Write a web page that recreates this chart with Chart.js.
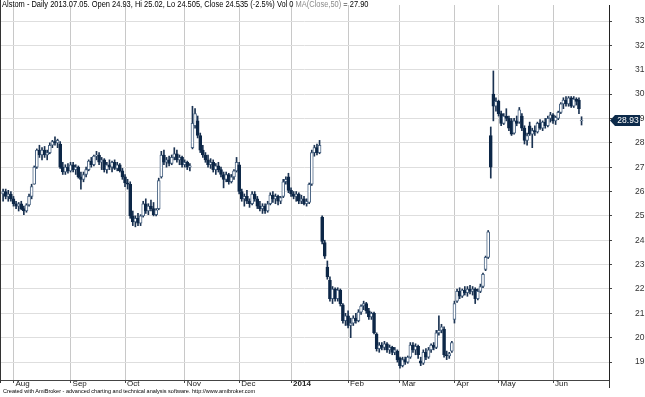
<!DOCTYPE html>
<html>
<head>
<meta charset="utf-8">
<script src="https://cdn.jsdelivr.net/npm/chart.js@4.4.1/dist/chart.umd.min.js"></script>
<style>
  html, body { margin: 0; padding: 0; background: #fff; }
  #wrap { position: relative; width: 645px; height: 397px; overflow: hidden; }
  #title { position: absolute; left: 2px; top: -1px; font: 9px 'Liberation Sans', Arial, sans-serif; color: #000; white-space: nowrap; transform: scaleX(0.83); transform-origin: 0 0; }
  #title span { color: #8a8a8a; }
  #footer { position: absolute; left: 3px; top: 388px; font: 6px 'Liberation Sans', Arial, sans-serif; color: #000; white-space: nowrap; transform: scaleX(0.92); transform-origin: 0 0; }
</style>
</head>
<body>
<div id="wrap">
  <canvas id="chart" width="645" height="397"></canvas>
  <div id="title">Alstom - Daily 2013.07.05. Open 24.93, Hi 25.02, Lo 24.505, Close 24.535 (-2.5%) Vol 0 <span>MA(Close,50)</span> = 27.90</div>
  <div id="footer">Created with AmiBroker - advanced charting and technical analysis software. http://www.amibroker.com</div>
</div>
<script>
// daily bars, late Jul 2013 -> mid Jun 2014
const opens = [
  25.9,26.0,25.8,25.9,25.7,25.5,25.4,25.5,25.3,25.2,
  25.45,25.8,26.3,27.0,27.7,27.5,27.7,27.5,27.6,27.9,
  28.05,28.0,27.95,27.0,26.8,27.0,26.85,27.1,26.9,27.0,
  26.6,26.5,26.7,26.9,27.25,27.1,27.45,27.5,27.2,27.3,
  26.9,27.1,27.0,27.2,26.95,27.1,26.85,26.6,26.35,26.3,
  25.0,24.75,24.9,24.7,25.0,25.5,25.2,25.4,25.3,25.05,
  25.3,26.6,27.5,27.2,27.3,27.15,27.4,27.55,27.3,27.4,
  27.1,27.2,27.0,27.8,28.7,28.9,28.3,27.7,27.5,27.3,
  27.1,27.2,26.9,27.05,26.9,26.7,26.5,26.7,26.4,26.6,
  26.85,27.1,26.0,25.7,25.8,25.6,25.5,25.9,25.7,25.4,
  25.3,25.4,25.2,25.5,25.85,25.7,25.8,25.6,25.8,26.4,
  26.6,26.05,25.9,25.8,25.9,25.6,25.7,25.5,25.55,26.3,
  27.6,27.8,27.6,24.95,23.9,22.9,22.35,21.6,22.0,21.6,
  21.95,21.35,20.7,20.9,20.5,20.6,20.8,20.7,21.05,21.3,
  21.4,21.1,20.85,21.0,20.15,19.55,19.7,19.6,19.75,19.5,
  19.6,19.4,19.45,19.15,18.85,19.1,19.0,19.2,19.7,19.5,
  19.65,19.05,18.95,19.4,19.2,19.5,19.7,19.6,20.2,20.3,
  20.35,19.3,19.25,19.45,20.75,21.5,21.9,21.7,21.95,21.85,
  22.0,21.9,22.0,21.6,21.9,22.1,22.8,23.3,28.3,30.0,
  29.5,29.7,29.2,28.8,29.1,29.0,28.9,28.4,28.9,28.85,
  29.1,28.6,28.1,28.7,28.35,28.5,28.45,28.8,28.6,28.85,
  28.7,29.0,29.15,28.9,29.0,29.25,29.6,29.75,29.6,29.85,
  29.5,29.8,29.75,28.9
];
const highs = [
  26.1,26.1,26.05,26.0,25.8,25.6,25.55,25.6,25.4,25.5,
  25.9,26.3,27.05,27.75,27.9,27.8,27.85,27.7,28.0,28.1,
  28.25,28.15,28.05,27.2,27.1,27.15,27.2,27.2,27.1,27.05,
  26.8,26.8,27.0,27.3,27.4,27.5,27.65,27.6,27.4,27.35,
  27.2,27.3,27.25,27.3,27.2,27.15,26.95,26.7,26.5,26.4,
  25.2,25.0,25.1,25.05,25.6,25.7,25.5,25.65,25.55,25.3,
  26.55,27.65,27.7,27.4,27.45,27.5,27.8,27.7,27.5,27.45,
  27.3,27.25,27.15,29.5,29.4,29.1,28.4,27.9,27.6,27.5,
  27.35,27.3,27.15,27.2,27.0,26.8,26.8,26.75,26.7,26.9,
  27.4,27.2,26.1,25.9,26.05,25.7,26.0,26.0,25.8,25.6,
  25.5,25.5,25.6,25.95,26.0,25.9,25.85,25.8,26.5,26.6,
  26.75,26.15,26.0,26.0,25.95,25.85,25.8,25.7,26.35,27.7,
  27.9,27.95,28.1,25.0,24.0,23.15,22.5,22.1,22.05,22.05,
  22.0,21.4,21.0,21.1,20.8,20.9,21.0,21.15,21.35,21.5,
  21.45,21.2,21.05,21.05,20.2,19.8,19.8,19.85,19.8,19.7,
  19.65,19.6,19.5,19.2,19.2,19.2,19.25,19.8,19.8,19.75,
  19.7,19.2,19.5,19.55,19.6,19.75,19.8,20.3,20.9,20.55,
  20.45,19.45,19.4,19.85,21.5,22.0,22.05,22.0,22.1,22.1,
  22.15,22.1,22.05,22.0,22.2,22.65,23.35,24.4,28.65,30.95,
  29.85,29.75,29.3,29.2,29.4,29.1,29.0,29.0,29.1,29.45,
  29.2,28.7,28.4,28.85,28.6,28.7,28.85,28.95,28.9,29.0,
  29.1,29.25,29.2,29.1,29.3,29.65,29.85,29.9,29.9,29.9,
  29.9,29.85,29.85,29.07
];
const lows = [
  25.6,25.7,25.6,25.6,25.4,25.3,25.2,25.25,25.05,25.15,
  25.4,25.7,26.3,26.95,27.4,27.3,27.4,27.3,27.55,27.8,
  27.9,27.8,26.95,26.7,26.7,26.75,26.8,26.8,26.7,26.55,
  26.1,26.4,26.6,26.85,27.0,27.05,27.3,27.1,26.9,26.8,
  26.75,26.9,26.8,26.9,26.85,26.8,26.5,26.2,26.1,24.9,
  24.6,24.55,24.6,24.6,24.95,25.1,25.05,25.2,25.0,25.0,
  25.25,26.55,27.1,27.0,27.05,27.1,27.3,27.2,27.1,27.0,
  27.0,26.9,26.85,27.75,28.6,28.2,27.6,27.4,27.2,27.0,
  26.95,26.8,26.7,26.8,26.6,26.15,26.4,26.3,26.35,26.5,
  26.8,25.9,25.6,25.4,25.5,25.35,25.45,25.6,25.3,25.2,
  25.1,25.1,25.15,25.45,25.55,25.5,25.45,25.5,25.75,26.3,
  25.95,25.8,25.7,25.6,25.5,25.5,25.45,25.4,25.5,26.25,
  27.45,27.5,27.55,23.85,23.25,22.4,21.5,21.4,21.5,21.5,
  21.3,20.6,20.5,20.4,20.0,20.5,20.6,20.65,20.95,21.15,
  21.0,20.75,20.75,20.15,19.45,19.4,19.5,19.5,19.4,19.35,
  19.3,19.3,19.0,18.75,18.8,18.9,18.95,19.15,19.4,19.3,
  19.15,18.85,18.9,19.1,19.15,19.4,19.5,19.55,20.1,20.2,
  19.2,19.1,19.15,19.4,20.6,21.45,21.6,21.65,21.75,21.7,
  21.8,21.75,21.4,21.55,21.85,22.05,22.75,23.25,26.55,28.9,
  29.3,29.1,28.7,28.75,28.9,28.5,28.3,28.35,28.7,28.8,
  28.5,27.95,27.9,28.3,27.8,28.3,28.4,28.55,28.5,28.6,
  28.65,28.85,28.8,28.75,28.95,29.2,29.4,29.5,29.5,29.45,
  29.45,29.55,29.2,28.73
];
const closes = [
  26.0,25.8,25.9,25.7,25.5,25.4,25.5,25.3,25.2,25.45,
  25.8,26.2,27.0,27.7,27.5,27.7,27.5,27.6,27.9,28.05,
  28.0,28.1,27.0,26.8,27.0,26.85,27.1,26.9,27.0,26.6,
  26.5,26.7,26.9,27.25,27.1,27.45,27.5,27.2,27.3,26.9,
  27.1,27.0,27.2,26.95,27.1,26.85,26.6,26.35,26.3,25.0,
  24.75,24.9,24.7,25.0,25.5,25.2,25.4,25.3,25.05,25.25,
  26.45,27.5,27.2,27.3,27.15,27.4,27.55,27.3,27.4,27.1,
  27.2,27.0,27.05,28.8,29.2,28.3,27.7,27.5,27.3,27.1,
  27.2,26.9,27.05,26.9,26.7,26.5,26.7,26.4,26.6,26.85,
  27.2,26.0,25.7,25.8,25.6,25.5,25.9,25.7,25.4,25.3,
  25.4,25.2,25.5,25.85,25.7,25.8,25.6,25.75,26.4,26.5,
  26.05,25.9,25.8,25.9,25.6,25.7,25.5,25.6,26.3,27.6,
  27.8,27.6,27.9,23.95,23.35,22.5,21.6,22.0,21.6,21.95,
  21.4,20.7,20.9,20.5,20.6,20.8,20.7,21.05,21.3,21.4,
  21.1,20.85,21.0,20.2,19.55,19.7,19.6,19.75,19.5,19.6,
  19.4,19.5,19.1,18.85,19.1,19.0,19.2,19.7,19.5,19.65,
  19.3,18.95,19.4,19.2,19.5,19.7,19.6,20.2,20.3,20.45,
  19.3,19.25,19.35,19.8,21.4,21.9,21.7,21.95,21.85,22.0,
  21.9,22.0,21.6,21.9,22.1,22.6,23.3,24.35,27.0,29.5,
  29.7,29.2,28.8,29.1,29.0,28.6,28.35,28.9,28.8,29.35,
  28.6,28.1,28.3,28.35,28.5,28.45,28.8,28.6,28.85,28.7,
  29.0,29.15,28.9,29.05,29.25,29.6,29.75,29.6,29.85,29.5,
  29.8,29.7,29.4,28.93
];

// first bar of each month and its axis label
const monthIdx = [4, 26, 47, 70, 91, 111, 133, 153, 174, 191, 212];
const monthLabels = ['Aug', 'Sep', 'Oct', 'Nov', 'Dec', '2014', 'Feb', 'Mar', 'Apr', 'May', 'Jun'];
const yTicks = [19, 20, 21, 22, 23, 24, 25, 26, 27, 28, 29, 30, 31, 32, 33];

const FONT = "'Liberation Sans', Arial, sans-serif";
const UP_FILL = '#ffffff';
const UP_LINE = '#4b6584';
const DOWN_FILL = '#0d2747';
const WICK = '#1b3352';

const bodies = [];
const wicks = [];
const fills = [];
const lines = [];
for (let i = 0; i < closes.length; i++) {
  const o = opens[i], c = closes[i];
  bodies.push({x: i, y: [Math.min(o, c), Math.max(o, c)]});
  wicks.push({x: i, y: [lows[i], highs[i]]});
  const up = c >= o;
  fills.push(up ? UP_FILL : DOWN_FILL);
  lines.push(up ? UP_LINE : DOWN_FILL);
}

// no automatic label padding, the frame is fixed like the original
function noPad(scale) {
  scale.paddingTop = 0;
  scale.paddingBottom = 0;
  scale.paddingLeft = 0;
  scale.paddingRight = 0;
}

const lastTag = {
  id: 'lastTag',
  afterDraw(chart) {
    const ctx = chart.ctx;
    const area = chart.chartArea;
    const yScale = chart.scales.y;
    // left frame line and axis line running past the bottom
    ctx.save();
    ctx.strokeStyle = '#333';
    ctx.lineWidth = 1;
    ctx.beginPath();
    ctx.moveTo(0.5, 0);
    ctx.lineTo(0.5, area.bottom + 3);
    ctx.moveTo(area.right + 0.5, area.bottom);
    ctx.lineTo(area.right + 0.5, area.bottom + 8);
    ctx.stroke();

    const last = closes[closes.length - 1];
    const y = Math.round(yScale.getPixelForValue(last)) + 0.5;
    const x0 = area.right + 1;
    ctx.fillStyle = '#0c2a4a';
    ctx.beginPath();
    ctx.moveTo(x0, y);
    ctx.lineTo(x0 + 5, y - 5.5);
    ctx.lineTo(x0 + 30, y - 5.5);
    ctx.lineTo(x0 + 30, y + 5.5);
    ctx.lineTo(x0 + 5, y + 5.5);
    ctx.closePath();
    ctx.fill();
    ctx.fillStyle = '#fff';
    ctx.font = '8.5px ' + FONT;
    ctx.textAlign = 'center';
    ctx.textBaseline = 'middle';
    ctx.fillText(last.toFixed(2), x0 + 18, y + 0.5);
    ctx.restore();
  }
};

new Chart(document.getElementById('chart'), {
  type: 'bar',
  data: {
    datasets: [
      {
        data: bodies,
        backgroundColor: fills,
        borderColor: lines,
        borderWidth: 1,
        borderSkipped: false,
        barThickness: 3,
        grouped: false,
      },
      {
        data: wicks,
        backgroundColor: WICK,
        borderWidth: 0,
        barThickness: 1,
        grouped: false,
      },
    ]
  },
  options: {
    responsive: false,
    animation: false,
    devicePixelRatio: 1,
    layout: {padding: {top: 5, left: 0, right: 0, bottom: 0}},
    plugins: {
      legend: {display: false},
      tooltip: {enabled: false},
      title: {display: false},
    },
    scales: {
      x: {
        type: 'linear',
        offset: false,
        min: -1.195,
        max: 233.58,
        afterBuildTicks: (scale) => {
          scale.ticks = monthIdx.map(v => ({value: v}));
        },
        afterFit: (scale) => { scale.height = 17; noPad(scale); },
        grid: {color: '#c8c8c8', tickColor: '#444', tickLength: 3, offset: false},
        border: {color: '#444', width: 1},
        ticks: {
          autoSkip: false,
          maxRotation: 0,
          align: 'start',
          labelOffset: 2,
          padding: -4,
          color: '#222',
          font: (ctx) => ({
            size: 8,
            family: FONT,
            weight: ctx.tick && ctx.tick.label === '2014' ? 'bold' : 'normal',
          }),
          callback: (value) => monthLabels[monthIdx.indexOf(value)] || '',
        },
      },
      y: {
        position: 'right',
        min: 18.263,
        max: 33.657,
        afterBuildTicks: (scale) => {
          scale.ticks = yTicks.map(v => ({value: v}));
        },
        afterFit: (scale) => { scale.width = 36; noPad(scale); },
        grid: {color: '#dedede', tickColor: '#444', tickLength: 3},
        border: {color: '#222', width: 1},
        ticks: {
          padding: 23,
          color: '#333',
          font: {size: 8.5, family: FONT},
          callback: (value) => String(value),
        },
      },
    },
  },
  plugins: [lastTag],
});
</script>
</body>
</html>
